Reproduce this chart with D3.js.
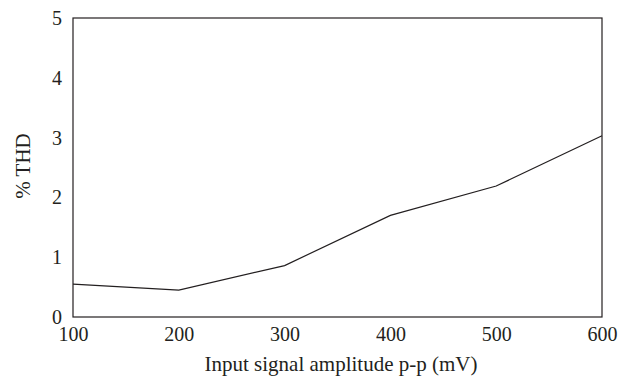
<!DOCTYPE html>
<html><head><meta charset="utf-8">
<script src="https://cdn.jsdelivr.net/npm/d3@7/dist/d3.min.js"></script>
<style>body{margin:0;background:#fff}svg{display:block}</style>
</head><body>
<svg id="c" width="635" height="381"></svg>
<script>
const amplitude = [100, 200, 300, 400, 500, 600];
const thd = [0.55, 0.45, 0.86, 1.70, 2.19, 3.03];
const xTicks = [100, 200, 300, 400, 500, 600];
const yTicks = [0, 1, 2, 3, 4, 5];
const xTitle = "Input signal amplitude p-p (mV)";
const yTitle = "% THD";

const svg = d3.select("#c");
const L = 73, R = 602, T = 18, B = 317;
const x = d3.scaleLinear().domain([100, 600]).range([L, R]);
const y = d3.scaleLinear().domain([0, 5]).range([B, T]);
const font = "'Liberation Serif', 'DejaVu Serif', serif";
const ink = "#231f20";

const xa = svg.append("g").attr("transform", `translate(0,${B})`)
  .call(d3.axisBottom(x).tickValues(xTicks).tickSize(0).tickPadding(10).tickFormat(d3.format("d")));
const ya = svg.append("g").attr("transform", `translate(${L},0)`)
  .call(d3.axisLeft(y).tickValues(yTicks).tickSize(0).tickPadding(11).tickFormat(d3.format("d")));
[xa, ya].forEach(a => {
  a.select(".domain").remove();
  a.selectAll("text").attr("font-family", font).attr("font-size", 20).attr("fill", ink);
});

svg.append("rect").attr("x", L).attr("y", T).attr("width", R - L).attr("height", B - T)
  .attr("fill", "none").attr("stroke", ink).attr("stroke-width", 1.2);

const line = d3.line().x((d, i) => x(amplitude[i])).y(d => y(d));
svg.append("path").datum(thd).attr("d", line).attr("fill", "none")
  .attr("stroke", ink).attr("stroke-width", 1.2);

svg.append("text").attr("x", 341).attr("y", 371).attr("text-anchor", "middle")
  .attr("font-family", font).attr("font-size", 21).attr("fill", ink).text(xTitle);
svg.append("text").attr("transform", `translate(30,166) rotate(-90)`)
  .attr("text-anchor", "middle").attr("font-family", font).attr("font-size", 21)
  .attr("fill", ink).text(yTitle);
</script>
</body></html>
